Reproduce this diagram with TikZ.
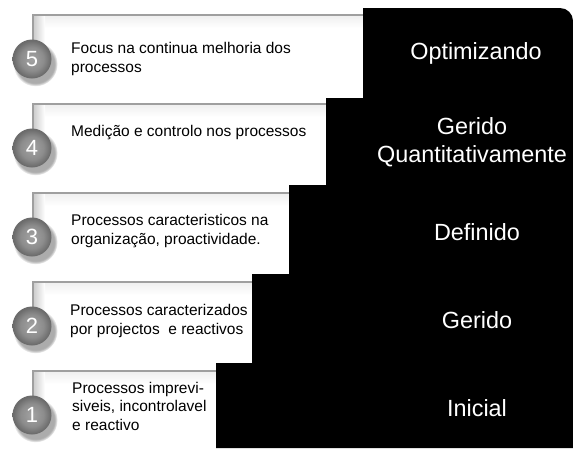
\documentclass[tikz,border=0pt]{standalone}
\usepackage{fontspec}
\setmainfont{Liberation Sans}
\usetikzlibrary{shadows}

\definecolor{discA}{gray}{0.64}
\definecolor{discB}{gray}{0.55}
\definecolor{discC}{gray}{0.42}
% soft grey disc, slightly darker towards its rim (25bp is the rim)
\pgfdeclareradialshading{numdisc}{\pgfpoint{0bp}{0bp}}{%
  color(0bp)=(discA); color(15bp)=(discB); color(24bp)=(discC); color(50bp)=(discC)}

\begin{document}
\begin{tikzpicture}[x=1pt,y=-1pt,
  frameline/.style={draw=gray!75, line width=1.6pt},
  topband/.style={top color=gray!12, middle color=gray!38, bottom color=white, draw=none},
  sideband/.style={left color=gray!38, right color=white, draw=none},
  numball/.style={circle, minimum size=39pt, inner sep=0pt, shading=numdisc,
    text=white, font=\fontsize{22}{22}\selectfont,
    circular drop shadow={shadow xshift=3pt, shadow yshift=-4.5pt, shadow scale=1.14, opacity=0.65}},
  desc/.style={anchor=west, align=left, inner sep=0pt,
    font=\fontsize{15.5}{18.5}\selectfont},
  level/.style={align=center, text=white, inner sep=0pt,
    font=\fontsize{23.4}{28}\selectfont}]

\useasboundingbox (0,0) rectangle (573,448);
\fill[white] (0,0) rectangle (573,448);

% framed white panels, one per maturity level (top edge y, right edge x)
\foreach \ytop/\xr in {15/363, 104/326, 193/289, 282/252, 371/216}{
  \fill[topband] (34,\ytop+1) rectangle (\xr,\ytop+13);
  \fill[sideband] (34,\ytop+1) rectangle (45,\ytop+34);
  \draw[frameline] (\xr,\ytop) -- (33,\ytop) -- (33,\ytop+30);
}

% black staircase holding the level names
\fill[black] (216,448) -- (216,363) -- (252,363) -- (252,274) -- (289,274)
  -- (289,185) -- (326,185) -- (326,98) -- (363,98) -- (363,8) -- (560,8)
  arc[start angle=270, end angle=360, radius=13] -- (573,448) -- cycle;

% numbered discs
\node[numball] (c5) at (32,59)  {5};
\node[numball] (c4) at (32,148) {4};
\node[numball] (c3) at (32,237) {3};
\node[numball] (c2) at (32,326) {2};
\node[numball] (c1) at (32,415) {1};

% descriptions
\node[desc] (t5) at (71,59)  {Focus na continua melhoria dos\\processos};
\node[desc] (t4) at (71,133) {Medição e controlo nos processos};
\node[desc] (t3) at (71,231) {Processos caracteristicos na\\organização, proactividade.};
\node[desc] (t2) at (70,321) {Processos caracterizados\\por projectos\ \ e reactivos};
\node[desc] (t1) at (72,406) {Processos imprevi-\\siveis, incontrolavel\\e reactivo};

% level names
\node[level] (l5) at (476,53)  {Optimizando};
\node[level] (l4) at (472,142) {Gerido\\Quantitativamente};
\node[level] (l3) at (477,232) {Definido};
\node[level] (l2) at (477,320) {Gerido};
\node[level] (l1) at (477,408) {Inicial};
\end{tikzpicture}
\end{document}
